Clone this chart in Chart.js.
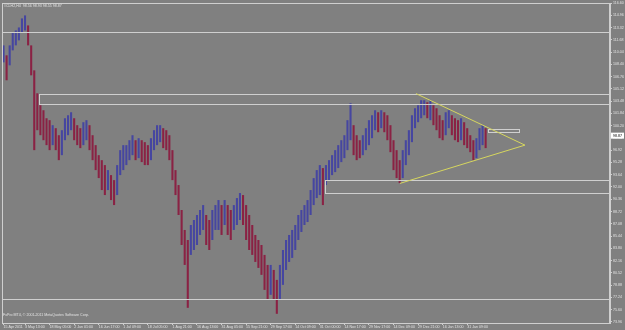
<!DOCTYPE html>
<html>
<head>
<meta charset="utf-8">
<script src="https://cdn.jsdelivr.net/npm/chart.js@4.4.0/dist/chart.umd.min.js"></script>
<style>
html,body{margin:0;padding:0;background:#808080;overflow:hidden}
canvas{display:block}
</style>
</head>
<body>
<canvas id="chart" width="625" height="330"></canvas>
<script>
// H4 bars squeezed into columns: high / low of each column, left to right
const highs = [
  110.95,109.62,110.95,112.69,112.95,113.35,114.56,114.96,113.62,110.95,
  107.61,104.54,102.94,102.27,101.20,100.94,100.27,99.87,98.93,99.60,
  101.20,101.60,102.00,101.20,100.27,99.87,100.67,100.94,100.27,98.93,
  97.60,96.26,95.59,94.93,94.26,93.59,92.92,94.93,96.93,97.60,
  97.60,98.26,98.93,98.26,98.53,98.26,98.00,97.60,98.53,99.60,
  100.27,100.27,99.87,99.60,98.93,96.93,94.26,92.26,88.92,86.25,
  84.91,86.91,87.58,88.25,88.92,89.58,88.25,87.58,88.92,89.58,
  90.25,89.58,90.25,89.58,88.92,89.58,90.52,91.19,90.92,89.58,
  88.25,86.91,85.58,84.91,84.24,82.91,81.57,81.57,80.90,79.57,
  81.57,83.57,84.91,85.58,86.25,86.91,88.25,88.92,89.58,90.25,
  91.59,93.19,94.26,94.93,94.53,94.93,95.59,96.26,96.93,97.60,
  98.26,98.93,100.94,103.21,100.27,98.93,98.26,98.93,99.87,100.94,
  101.60,102.27,102.00,102.27,102.00,101.60,100.27,98.26,96.93,95.59,
  96.93,98.26,99.60,101.60,102.54,102.94,103.61,103.61,103.34,103.61,
  102.94,102.54,101.60,100.94,102.00,102.27,101.60,101.20,100.94,101.20,
  100.67,99.87,98.93,98.26,98.53,99.87,100.27,99.87
];
const lows = [
  108.68,106.28,108.28,110.28,110.95,111.62,112.69,112.95,110.95,106.94,
  96.93,99.60,98.93,98.26,97.60,96.93,97.60,96.93,95.59,96.26,
  98.26,98.93,99.60,98.26,97.60,97.20,97.60,98.26,96.93,95.59,
  94.26,93.19,91.59,90.92,91.59,90.25,89.58,90.92,93.59,94.26,
  94.93,95.59,96.26,95.59,95.86,95.33,94.93,94.93,95.59,96.93,
  97.60,98.00,97.20,96.93,95.59,92.92,90.92,88.25,84.24,81.57,
  75.83,82.91,83.57,84.24,85.58,86.25,84.24,83.57,84.91,86.25,
  86.25,85.58,86.91,85.58,84.91,86.25,86.91,87.58,86.91,84.91,
  83.57,82.91,81.97,81.17,80.24,78.23,76.90,77.57,76.90,75.03,
  76.90,78.90,80.90,81.97,82.51,83.57,84.91,85.98,86.91,87.31,
  88.25,89.58,90.52,90.92,89.58,92.26,92.92,93.59,93.99,94.53,
  95.33,95.86,96.93,98.26,96.26,95.59,95.86,96.26,96.93,97.60,
  98.53,99.60,99.33,99.87,99.33,98.26,96.66,94.26,93.19,92.52,
  93.19,94.93,96.26,98.00,99.87,100.67,101.20,101.60,101.20,100.94,
  100.27,99.60,98.53,98.26,98.93,99.87,98.93,98.26,98.00,98.26,
  97.60,97.20,96.66,95.59,95.86,96.93,97.60,97.20
];
const timeLabels = ["15 Apr 2011","3 May 13:00","18 May 05:00","2 Jun 01:00","16 Jun 17:00",
  "1 Jul 09:00","18 Jul 05:00","1 Aug 21:00","16 Aug 13:00","31 Aug 05:00","15 Sep 21:00",
  "29 Sep 17:00","14 Oct 09:00","31 Oct 00:00","14 Nov 17:00","29 Nov 17:00","14 Dec 09:00",
  "29 Dec 21:00","16 Jan 13:00","31 Jan 09:00"];
const priceTicks = [116.60,114.96,113.32,111.68,110.04,108.40,106.76,105.12,103.48,101.84,
  100.20,98.56,96.92,95.28,93.64,92.00,90.36,88.72,87.08,85.44,83.80,82.16,80.52,78.88,
  77.24,75.60,73.96];
const lastPrice = 98.87;
const quote = "#CLH2,H4  98.56 98.93 98.55 98.87";
const copyright = "FxPro MT4, \u00a9 2001-2011 MetaQuotes Software Corp.";

// objects drawn on the chart (column index, price)
const levels = [112.69, 77.03];
const boxes = [
  {from: 11.4, to: null, top: 104.47, bottom: 103.07},
  {from: 104.8, to: null, top: 92.92, bottom: 91.19},
  {from: 157.7, to: 167.8, top: 99.73, bottom: 99.33}
];
const triangle = [[134.3, 104.50], [169.8, 97.60], [129.1, 92.48]];

const COLS = 198;      // chart width incl. empty shift on the right
const LINE = '#cfcfcf';
const TXT = '#e2e2e2';
const UP = '#4646a0';
const DOWN = '#8a2244';
const FONT = '"Liberation Sans"';

const cats = Array.from({length: COLS}, (_, i) => String(i));
const bars = cats.map((_, i) => i < highs.length ? [lows[i], highs[i]] : null);
function labelAt(i){
  if(i === 0) return timeLabels[0];
  if(i >= 7 && (i - 7) % 8 === 0) return timeLabels[(i - 7) / 8 + 1] || '';
  return '';
}
function isUp(i){
  if(i === 0 || i >= highs.length) return true;
  return highs[i] + lows[i] >= highs[i-1] + lows[i-1];
}

const overlay = {
  id: 'overlay',
  afterDatasetsDraw(chart){
    const {ctx, chartArea: a, scales: {x, y}} = chart;
    ctx.save();
    ctx.beginPath(); ctx.rect(a.left, a.top, a.right - a.left, a.bottom - a.top); ctx.clip();
    ctx.lineWidth = 1;
    ctx.strokeStyle = LINE;
    levels.forEach(p => {
      const py = Math.round(y.getPixelForValue(p)) + 0.5;
      ctx.beginPath(); ctx.moveTo(a.left, py); ctx.lineTo(a.right, py); ctx.stroke();
    });
    boxes.forEach(b => {
      const x0 = Math.round(x.getPixelForValue(b.from)) + 0.5;
      const x1 = b.to == null ? a.right + 4 : Math.round(x.getPixelForValue(b.to)) + 0.5;
      const y0 = Math.round(y.getPixelForValue(b.top)) + 0.5;
      const y1 = Math.round(y.getPixelForValue(b.bottom)) + 0.5;
      ctx.strokeRect(x0, y0, x1 - x0, y1 - y0);
    });
    ctx.strokeStyle = '#d6d65e';
    ctx.beginPath();
    triangle.forEach(([i, p], k) => {
      const px = x.getPixelForValue(i), py = y.getPixelForValue(p);
      k ? ctx.lineTo(px, py) : ctx.moveTo(px, py);
    });
    ctx.stroke();
    ctx.restore();
  },
  afterDraw(chart){
    const {ctx, chartArea: a, scales: {y}} = chart;
    ctx.save();
    ctx.strokeStyle = LINE; ctx.lineWidth = 1;
    ctx.strokeRect(a.left + 0.5, a.top + 0.5, a.right - a.left - 1, a.bottom - a.top);
    ctx.font = '3.6px ' + FONT;
    ctx.fillStyle = TXT;
    ctx.textBaseline = 'top';
    ctx.fillText(quote, a.left + 2, a.top + 1);
    ctx.textBaseline = 'bottom';
    ctx.fillText(copyright, a.left + 1, a.bottom - 6);
    // last price label on the axis
    const py = y.getPixelForValue(lastPrice);
    ctx.fillStyle = '#ffffff';
    ctx.fillRect(a.right + 1, py - 3, 13, 6);
    ctx.fillStyle = '#000000';
    ctx.textBaseline = 'middle';
    ctx.fillText(lastPrice.toFixed(2), a.right + 3, py);
    ctx.restore();
  }
};

new Chart(document.getElementById('chart'), {
  type: 'bar',
  data: {
    labels: cats,
    datasets: [{
      data: bars,
      backgroundColor: c => isUp(c.dataIndex) ? UP : DOWN,
      borderWidth: 0,
      barPercentage: 0.68,
      categoryPercentage: 1
    }]
  },
  options: {
    responsive: false,
    animation: false,
    layout: {padding: {left: 2, top: 3, right: 0, bottom: 0}},
    plugins: {legend: {display: false}, tooltip: {enabled: false}},
    scales: {
      x: {
        offset: true,
        grid: {display: true, drawOnChartArea: false, drawTicks: true, tickLength: 2, offset: false,
               color: c => labelAt(c.index) ? LINE : 'rgba(0,0,0,0)'},
        border: {display: true, color: LINE},
        ticks: {autoSkip: false, maxRotation: 0, minRotation: 0, align: 'start', padding: 0,
                color: TXT, font: {family: FONT, size: 3.6},
                callback: (v, i) => labelAt(i)},
        afterFit: s => { s.height = 7; s.paddingLeft = 0; s.paddingRight = 0; }
      },
      y: {
        position: 'right',
        min: 73.80,
        max: 116.62,
        grid: {display: true, drawOnChartArea: false, drawTicks: true, tickLength: 2, color: LINE},
        border: {display: true, color: LINE},
        ticks: {padding: 1, color: TXT, font: {family: FONT, size: 3.6},
                callback: v => v.toFixed(2)},
        afterBuildTicks: s => { s.ticks = priceTicks.map(v => ({value: v})); },
        afterFit: s => { s.width = 15; s.paddingTop = 0; s.paddingBottom = 0; }
      }
    }
  },
  plugins: [overlay]
});
</script>
</body>
</html>
